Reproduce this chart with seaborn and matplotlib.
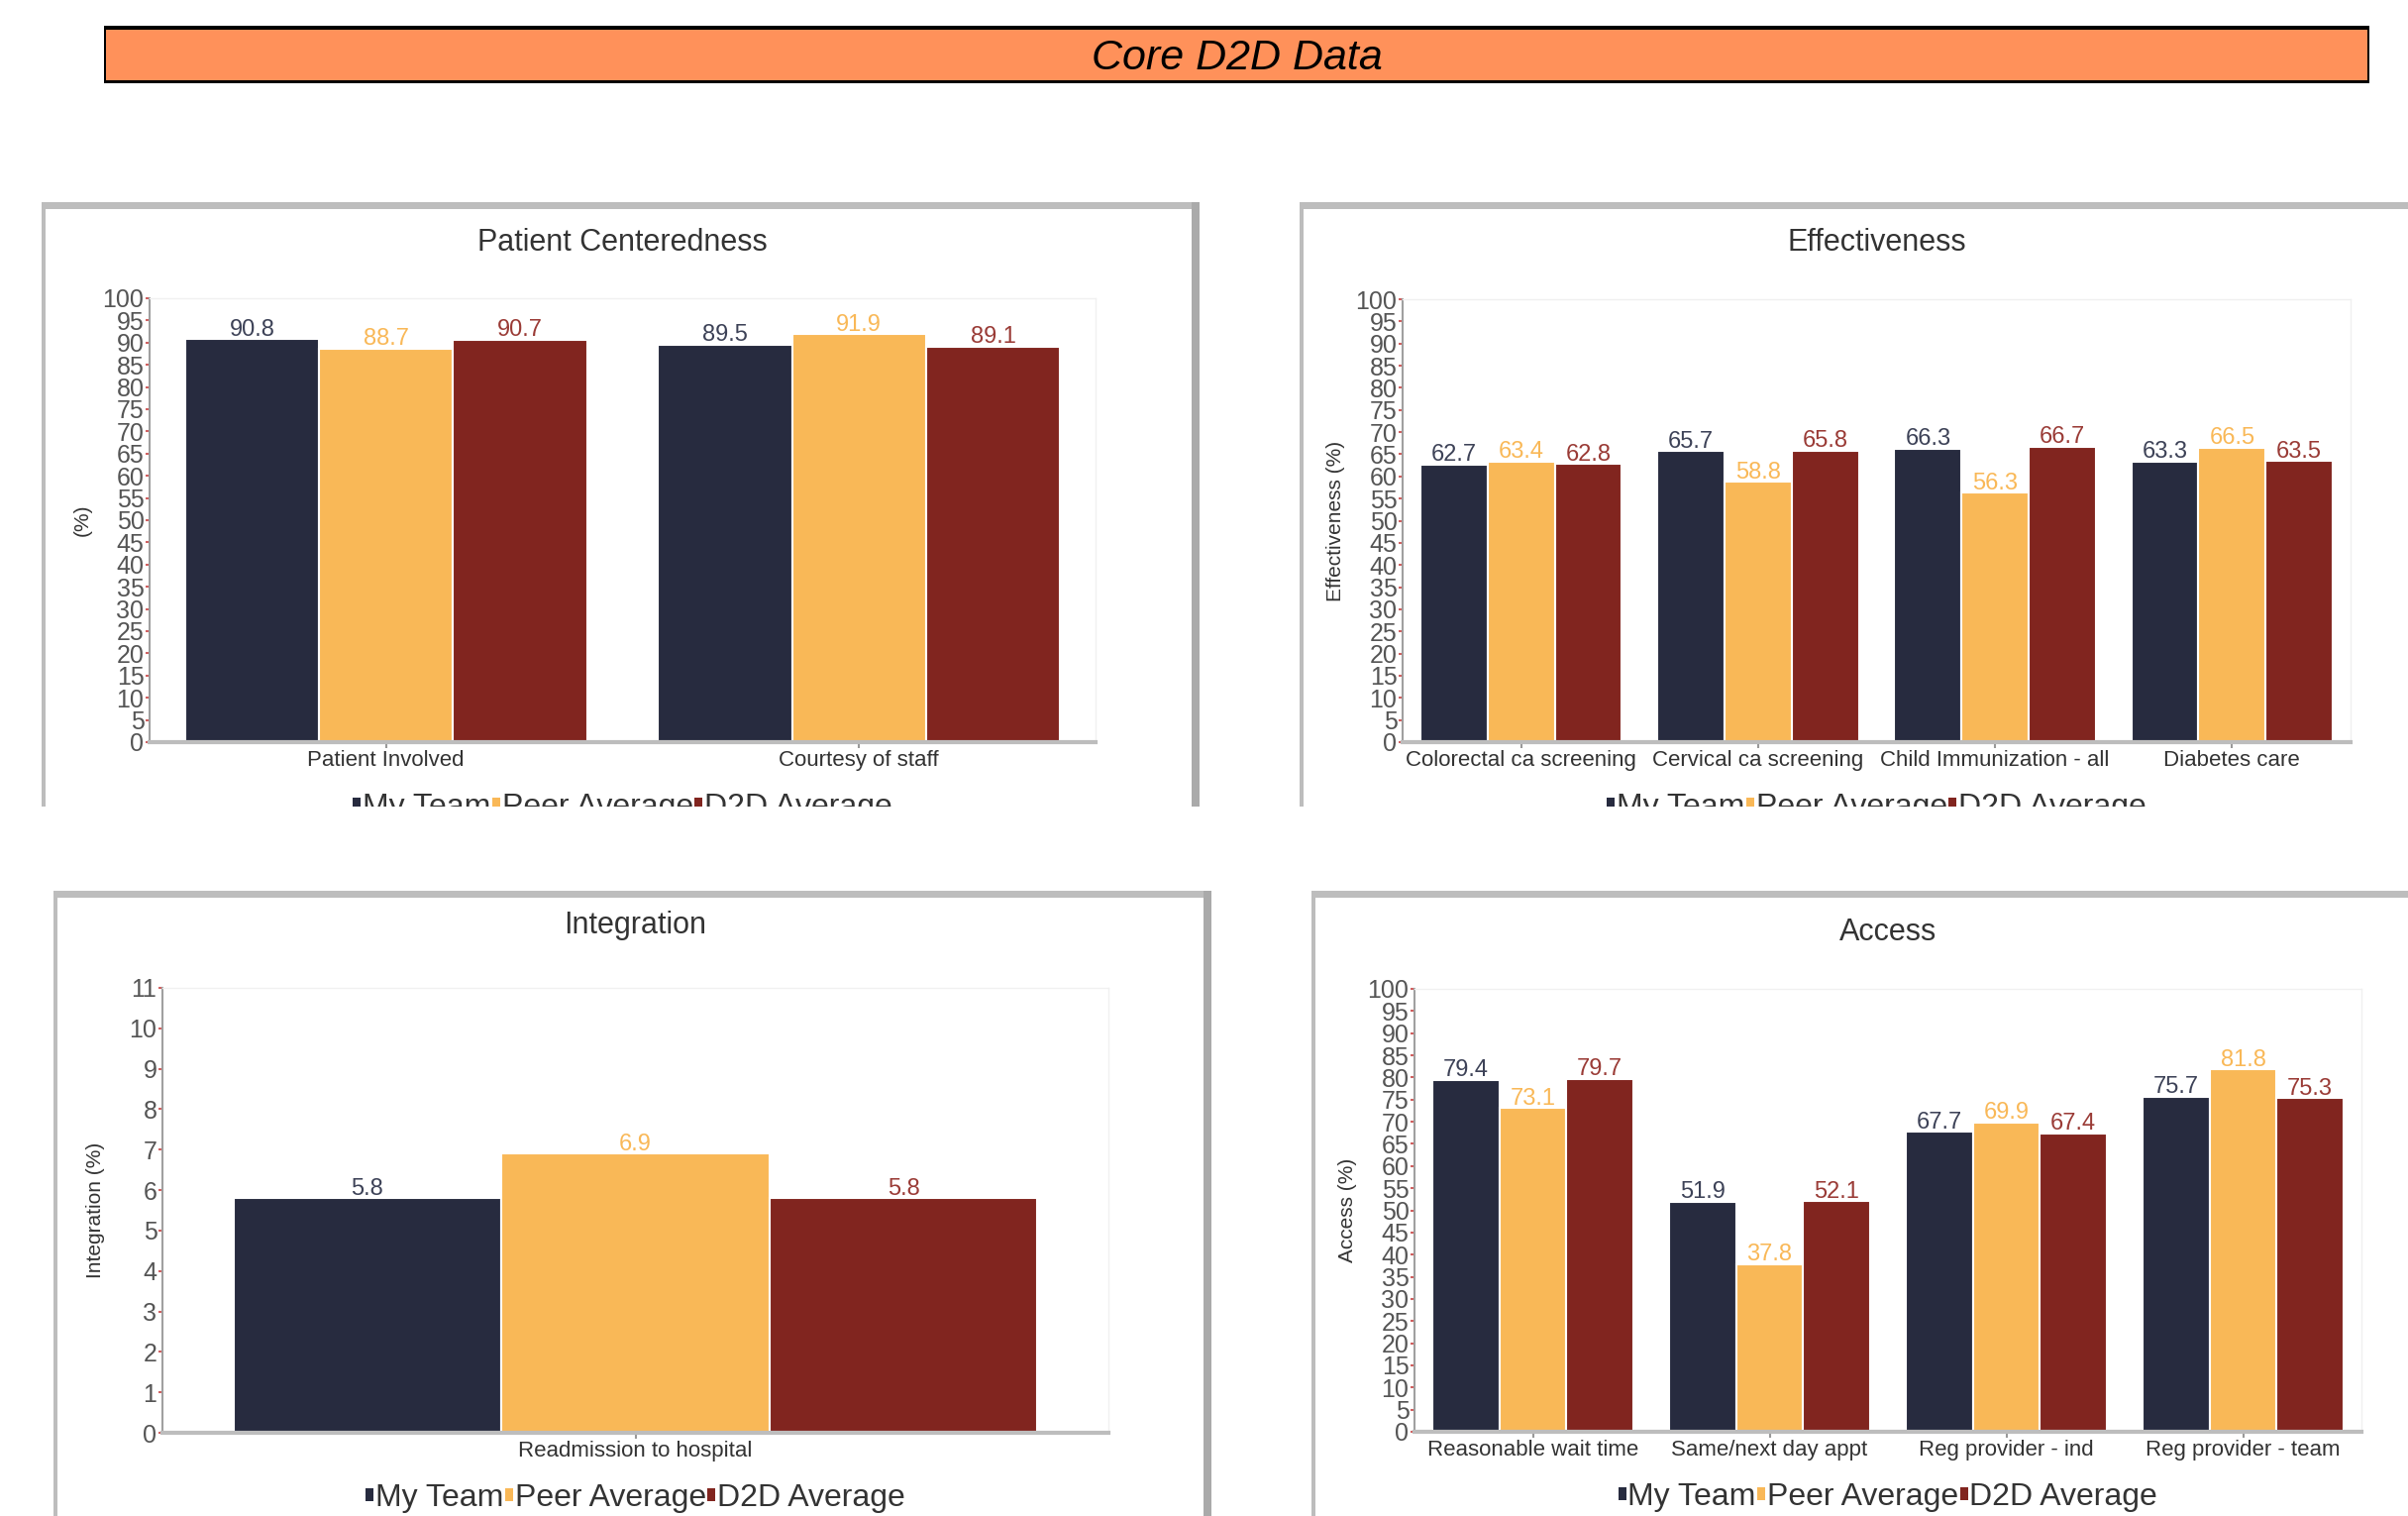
import pandas as pd
import matplotlib.pyplot as plt
import seaborn as sns
import numpy as np
from matplotlib.patches import Rectangle

# series names and colours
series = ["My Team", "Peer Average", "D2D Average"]
bar_colors = ["#272B3F", "#F9B857", "#81251F"]
label_colors = ["#3D4257", "#F9B857", "#9A3B36"]

# Patient Centeredness
pc_cats = ["Patient Involved", "Courtesy of staff"]
pc_team = [90.8, 89.5]
pc_peer = [88.7, 91.9]
pc_d2d = [90.7, 89.1]

# Effectiveness
eff_cats = ["Colorectal ca screening", "Cervical ca screening",
            "Child Immunization - all", "Diabetes care"]
eff_team = [62.7, 65.7, 66.3, 63.3]
eff_peer = [63.4, 58.8, 56.3, 66.5]
eff_d2d = [62.8, 65.8, 66.7, 63.5]

# Integration
int_cats = ["Readmission to hospital"]
int_team = [5.8]
int_peer = [6.9]
int_d2d = [5.8]

# Access
acc_cats = ["Reasonable wait time", "Same/next day appt",
            "Reg provider - ind", "Reg provider - team"]
acc_team = [79.4, 51.9, 67.7, 75.7]
acc_peer = [73.1, 37.8, 69.9, 81.8]
acc_d2d = [79.7, 52.1, 67.4, 75.3]

W, H = 2431, 1530
sns.set_style("white")
plt.rcParams['font.family'] = ['Liberation Sans', 'DejaVu Sans']

fig = plt.figure(figsize=(W / 100, H / 100), dpi=100)
fig.patch.set_facecolor("white")


def rect(x0, y0, x1, y1, color, z=1):
    r = Rectangle((x0 / W, 1 - y1 / H), (x1 - x0) / W, (y1 - y0) / H,
                  transform=fig.transFigure, facecolor=color,
                  edgecolor="none", zorder=z)
    fig.patches.append(r)


def make_df(cats, team, peer, d2d):
    rows = []
    for s, vals in zip(series, [team, peer, d2d]):
        for c, v in zip(cats, vals):
            rows.append({"cat": c, "series": s, "value": v})
    return pd.DataFrame(rows)


def panel(title, ylabel, df, ymax, step, ax_px, title_y):
    x0, yt, x1, yb = ax_px
    ax = fig.add_axes([x0 / W, 1 - yb / H, (x1 - x0) / W, (yb - yt) / H])
    sns.barplot(data=df, x="cat", y="value", hue="series", hue_order=series,
                palette=bar_colors, saturation=1, width=0.85,
                edgecolor="white", linewidth=1.5, errorbar=None, ax=ax)
    ax.set_ylim(0, ymax)
    ax.set_yticks(np.arange(0, ymax + step / 2, step))
    ax.set_xlabel("")
    ax.set_ylabel(ylabel, fontsize=15, color="#333333")
    ax.yaxis.set_label_coords(-58 / (x1 - x0), 0.5)
    ax.tick_params(axis="y", labelsize=18, colors="#D06060",
                   length=3, width=1.5, pad=1, left=True)
    ax.tick_params(axis="y", labelcolor="#555555")
    ax.tick_params(axis="x", labelsize=16, colors="#999999",
                   length=4, width=1.5, pad=2, bottom=True)
    ax.tick_params(axis="x", labelcolor="#333333")
    for side in ["top", "right"]:
        ax.spines[side].set_color("#F0F0F0")
        ax.spines[side].set_linewidth(1)
    ax.spines["left"].set_color("#A0A0A0")
    ax.spines["left"].set_linewidth(1.5)
    ax.spines["bottom"].set_color("#BDBDBD")
    ax.spines["bottom"].set_linewidth(3)
    ax.spines["bottom"].set_zorder(5)
    for cont, col in zip(ax.containers, label_colors):
        ax.bar_label(cont, fmt="%.1f", color=col, fontsize=17, padding=-1)
    # small square markers in front of each legend label
    handles = [Rectangle((0, 0), 1, 1, facecolor=c, edgecolor="none") for c in bar_colors]
    ax.legend(handles, series, loc="center", bbox_to_anchor=(0.5, -66 / (yb - yt)),
              ncol=3, frameon=False, fontsize=23, handlelength=0.25,
              handleheight=0.25, handletextpad=0.05, columnspacing=0.05,
              labelcolor="#333333")
    fig.text((x0 + x1) / 2 / W, 1 - title_y / H, title, fontsize=22,
             color="#333333", ha="center", va="center")
    return ax


# banner
rect(105, 26, 2392, 84, "black", z=1)
rect(107, 30, 2390, 81, "#FF915A", z=2)
fig.text((105 + 2392) / 2 / W, 1 - 59 / H, "Core D2D Data", fontsize=31,
         style="italic", color="black", ha="center", va="center", zorder=3)

# panel frames
rect(42, 204, 1211, 211, "#BDBDBD")
rect(42, 204, 46, 814, "#BDBDBD")
rect(1203, 204, 1211, 814, "#AAAAAA")
rect(1312, 204, 2431, 211, "#BDBDBD")
rect(1312, 204, 1316, 814, "#BDBDBD")
rect(54, 899, 1223, 906, "#BDBDBD")
rect(54, 899, 58, 1530, "#BDBDBD")
rect(1215, 899, 1223, 1530, "#AAAAAA")
rect(1324, 899, 2431, 906, "#BDBDBD")
rect(1324, 899, 1328, 1530, "#BDBDBD")

panel("Patient Centeredness", "(%)", make_df(pc_cats, pc_team, pc_peer, pc_d2d),
      100, 5, (151, 301, 1106, 749), 245)
panel("Effectiveness", "Effectiveness (%)", make_df(eff_cats, eff_team, eff_peer, eff_d2d),
      100, 5, (1416, 302, 2373, 749), 245)
panel("Integration", "Integration (%)", make_df(int_cats, int_team, int_peer, int_d2d),
      11, 1, (164, 997, 1119, 1446), 934)
panel("Access", "Access (%)", make_df(acc_cats, acc_team, acc_peer, acc_d2d),
      100, 5, (1428, 998, 2384, 1445), 941)

# top row is cut off just under the legends
rect(0, 814, W, 897, "white", z=10)

fig.savefig("out.png", dpi=100, facecolor="white")
